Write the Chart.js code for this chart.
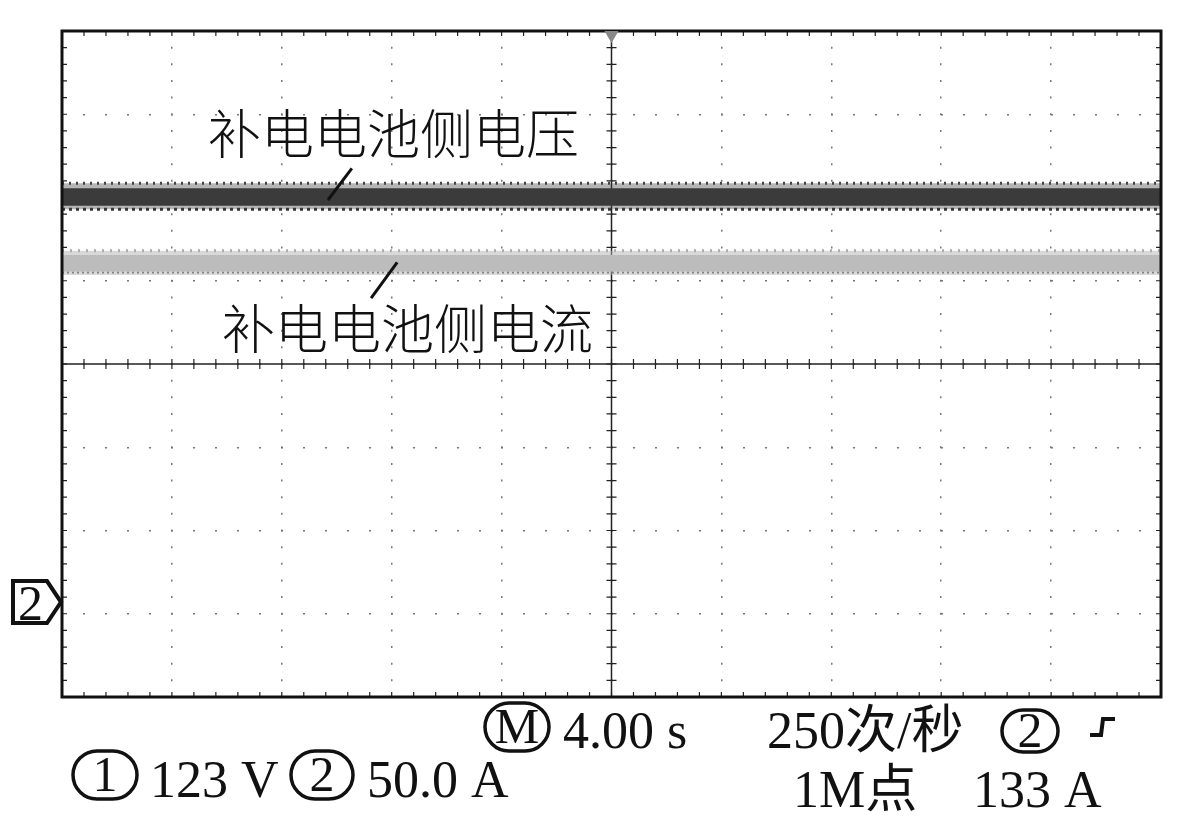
<!DOCTYPE html>
<html>
<head>
<meta charset="utf-8">
<script src="https://cdn.jsdelivr.net/npm/chart.js@4.4.0/dist/chart.umd.min.js"></script>
<style>
  html, body { margin: 0; padding: 0; background: #fff; }
  #wrap { width: 1186px; height: 834px; }
</style>
</head>
<body>
<div id="wrap"><canvas id="grafico" width="1186" height="834"></canvas></div>
<script>
// time axis: 4.00 s/div, 10 divisions
var tempo = [0, 40];
// trace bands, in screen divisions (0 = centre line)
var tensaoExterna = [2.17, 1.86];   // noisy envelope of battery voltage
var tensaoNucleo = [2.11, 1.90];    // dense core of battery voltage
var correnteExterna = [1.36, 1.07]; // noisy envelope of battery current
var correnteNucleo = [1.31, 1.11];  // dense core of battery current
var bordaCorrente = 1.10;           // dark speckle under the current trace
var terraCanal2 = -2.86;            // channel 2 ground marker
var rotuloTensao = '补电电池侧电压';
var rotuloCorrente = '补电电池侧电流';

function serie(v) {
    return tempo.map(function(t) { return { x: t, y: v }; });
}

function faixa(valor, cor, fill, dash, largura) {
    return {
        data: serie(valor),
        borderColor: cor,
        backgroundColor: cor,
        borderWidth: largura || 0,
        borderDash: dash || [],
        pointRadius: 0,
        fill: fill,
        tension: 0
    };
}

var datasets = [
    faixa(tensaoExterna[0], 'rgba(70,70,70,0.4)', '+1'),
    faixa(tensaoExterna[1], 'rgba(70,70,70,0.4)', false),
    faixa(tensaoNucleo[0], '#353535', '+1'),
    faixa(tensaoNucleo[1], '#353535', false),
    faixa(tensaoExterna[0], '#444', false, [2, 5], 3),
    faixa(tensaoExterna[1], '#333', false, [3, 4], 3),
    faixa(correnteExterna[0], 'rgba(180,180,180,0.5)', '+1'),
    faixa(correnteExterna[1], 'rgba(180,180,180,0.5)', false),
    faixa(correnteNucleo[0], '#c4c4c4', '+1'),
    faixa(correnteNucleo[1], '#c4c4c4', false),
    faixa(correnteExterna[0], '#aaa', false, [2, 6], 3),
    faixa(bordaCorrente, '#555', false, [2, 3], 2)
];

function circulado(ctx, txt, cx, cy, w, h) {
    ctx.save();
    ctx.lineWidth = 3.5;
    ctx.strokeStyle = '#111';
    ctx.beginPath();
    ctx.roundRect(cx - w / 2, cy - h / 2, w, h, h / 2);
    ctx.stroke();
    ctx.fillStyle = '#111';
    ctx.font = '50px "Liberation Serif"';
    ctx.textAlign = 'center';
    ctx.textBaseline = 'middle';
    ctx.fillText(txt, cx, cy + 3);
    ctx.restore();
}

var osciloscopio = {
    id: 'osciloscopio',
    beforeDatasetsDraw: function(chart) {
        var ctx = chart.ctx, a = chart.chartArea;
        var sx = chart.scales.x, sy = chart.scales.y;
        var cx = sx.getPixelForValue(20), cy = sy.getPixelForValue(0);
        ctx.save();
        ctx.strokeStyle = '#222';
        ctx.lineWidth = 1.5;
        ctx.beginPath();
        ctx.moveTo(a.left, cy); ctx.lineTo(a.right, cy);
        ctx.moveTo(cx, a.top); ctx.lineTo(cx, a.bottom);
        ctx.stroke();
        ctx.lineWidth = 1.2;
        ctx.beginPath();
        for (var t = 0; t <= 40; t += 0.8) {
            var px = sx.getPixelForValue(t);
            ctx.moveTo(px, cy - 5); ctx.lineTo(px, cy + 5);
            ctx.moveTo(px, a.top); ctx.lineTo(px, a.top + 5);
            ctx.moveTo(px, a.bottom); ctx.lineTo(px, a.bottom - 5);
        }
        for (var d = -4; d <= 4; d += 0.2) {
            var py = sy.getPixelForValue(d);
            ctx.moveTo(cx - 5, py); ctx.lineTo(cx + 5, py);
            ctx.moveTo(a.left, py); ctx.lineTo(a.left + 5, py);
            ctx.moveTo(a.right, py); ctx.lineTo(a.right - 5, py);
        }
        ctx.stroke();
        ctx.restore();
    },
    afterDraw: function(chart) {
        var ctx = chart.ctx, a = chart.chartArea;
        var sx = chart.scales.x, sy = chart.scales.y;
        ctx.save();
        // frame
        ctx.strokeStyle = '#111';
        ctx.lineWidth = 3;
        ctx.strokeRect(a.left, a.top, a.right - a.left, a.bottom - a.top);
        // trigger position marker
        var cx = sx.getPixelForValue(20);
        ctx.fillStyle = '#888';
        ctx.beginPath();
        ctx.moveTo(cx - 7, a.top); ctx.lineTo(cx + 7, a.top); ctx.lineTo(cx, a.top + 12);
        ctx.closePath(); ctx.fill();
        // channel 2 ground marker
        var gy = sy.getPixelForValue(terraCanal2);
        ctx.lineWidth = 4;
        ctx.strokeStyle = '#111';
        ctx.fillStyle = '#fff';
        ctx.beginPath();
        ctx.moveTo(13, gy - 21); ctx.lineTo(47, gy - 21); ctx.lineTo(a.left - 1, gy);
        ctx.lineTo(47, gy + 21); ctx.lineTo(13, gy + 21); ctx.closePath();
        ctx.fill(); ctx.stroke();
        ctx.fillStyle = '#111';
        ctx.font = '50px "Liberation Serif"';
        ctx.textAlign = 'left';
        ctx.textBaseline = 'alphabetic';
        ctx.fillText('2', 18, gy + 18);
        // trace labels and leader lines
        ctx.font = '300 53px "Noto Sans CJK SC"';
        ctx.fillStyle = '#111';
        ctx.fillText(rotuloTensao, sx.getPixelForValue(5.31), sy.getPixelForValue(2.52));
        ctx.fillText(rotuloCorrente, sx.getPixelForValue(5.82), sy.getPixelForValue(0.18));
        ctx.lineWidth = 3;
        ctx.beginPath();
        ctx.moveTo(sx.getPixelForValue(10.55), sy.getPixelForValue(2.35));
        ctx.lineTo(sx.getPixelForValue(9.68), sy.getPixelForValue(1.97));
        ctx.moveTo(sx.getPixelForValue(12.2), sy.getPixelForValue(1.22));
        ctx.lineTo(sx.getPixelForValue(11.25), sy.getPixelForValue(0.79));
        ctx.stroke();
        // readout
        ctx.font = '52px "Liberation Serif", "Noto Sans CJK SC"';
        ctx.fillText('4.00 s', 563, 748);
        ctx.fillText('250次/秒', 767, 748);
        ctx.fillText('123 V', 150, 797);
        ctx.fillText('50.0 A', 367, 797);
        ctx.fillText('1M点', 793, 807);
        ctx.fillText('133 A', 973, 807);
        circulado(ctx, 'M', 517, 727, 64, 48);
        circulado(ctx, '2', 1030, 731, 56, 42);
        circulado(ctx, '1', 105, 775, 64, 48);
        circulado(ctx, '2', 322, 775, 62, 48);
        ctx.lineWidth = 4;
        ctx.beginPath();
        ctx.moveTo(1090, 735); ctx.lineTo(1101, 735); ctx.lineTo(1103, 719); ctx.lineTo(1115, 719);
        ctx.stroke();
        ctx.restore();
    }
};

new Chart(document.getElementById('grafico'), {
    type: 'line',
    data: { datasets: datasets },
    options: {
        responsive: false,
        devicePixelRatio: 1,
        animation: false,
        layout: { padding: { left: 62, right: 25, top: 31, bottom: 137 } },
        plugins: { legend: { display: false }, tooltip: { enabled: false } },
        scales: {
            x: {
                type: 'linear', min: 0, max: 40,
                ticks: { display: false, stepSize: 4 },
                grid: { color: '#777', lineWidth: 1.5, drawTicks: false },
                border: { display: false, dash: [2, 14.65], dashOffset: 1 }
            },
            y: {
                min: -4, max: 4,
                ticks: { display: false, stepSize: 1 },
                grid: { color: '#777', lineWidth: 1.5, drawTicks: false },
                border: { display: false, dash: [2, 20], dashOffset: 1 }
            }
        }
    },
    plugins: [osciloscopio]
});
</script>
</body>
</html>
